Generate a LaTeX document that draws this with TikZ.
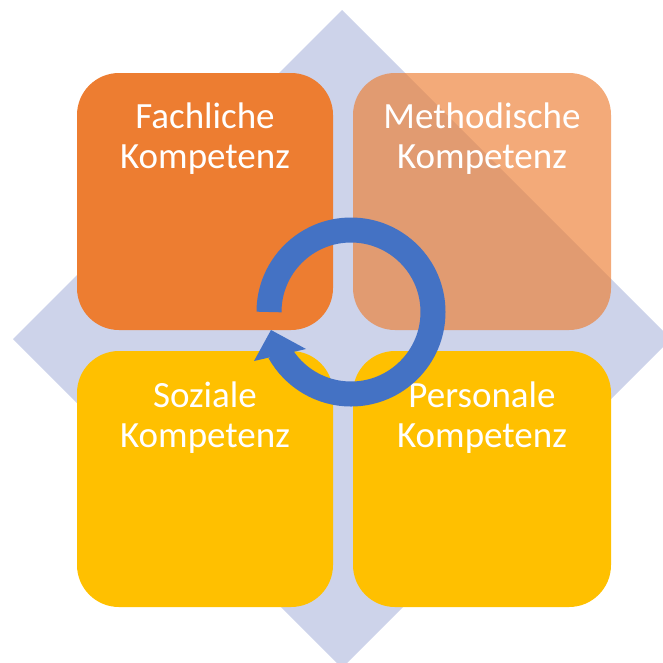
\documentclass[tikz,border=0pt]{standalone}
\usepackage{fontspec}
\setmainfont{Carlito}
\definecolor{diamondc}{HTML}{CDD3EA}
\definecolor{orangec}{HTML}{ED7D31}
\definecolor{yellowc}{HTML}{FFC000}
\definecolor{bluec}{HTML}{4472C4}
\begin{document}
\begin{tikzpicture}[x=1pt,y=-1pt,
  box/.style={rounded corners=42pt},
  lbl/.style={text=white,font=\fontsize{37}{40}\selectfont,anchor=base,inner sep=0pt}]
\useasboundingbox (0,0) rectangle (663,662);
\begin{scope}
\clip (0,0) rectangle (663,662);
\fill[diamondc] (342,10) -- (671,339) -- (342,668) -- (13,339) -- cycle;
\end{scope}
% boxes
\fill[box,orangec] (77,73) rectangle (333,330);
\fill[box,orangec,fill opacity=0.65] (353,73) rectangle (611,330);
\fill[box,yellowc] (77,351) rectangle (333,607);
\fill[box,yellowc] (353,351) rectangle (611,607);
% labels
\node[lbl] (f1) at (205,128) {Fachliche};
\node[lbl] (f2) at (205,168) {Kompetenz};
\node[lbl] (m1) at (482,128) {Methodische};
\node[lbl] (m2) at (482,168) {Kompetenz};
\node[lbl] (s1) at (205,407) {Soziale};
\node[lbl] (s2) at (205,447) {Kompetenz};
\node[lbl] (p1) at (482,407) {Personale};
\node[lbl] (p2) at (482,447) {Kompetenz};
% circular arrow
\coordinate (c) at (351,312);
\draw[bluec,line width=25pt] ([shift={(180:82)}]c) arc[start angle=180,end angle=511,radius=82];
\coordinate (tip) at (271,330);
\coordinate (bl) at (254,361);
\coordinate (br) at (306,349);
\fill[bluec] (tip) -- (bl) -- (br) -- cycle;
\end{tikzpicture}
\end{document}
